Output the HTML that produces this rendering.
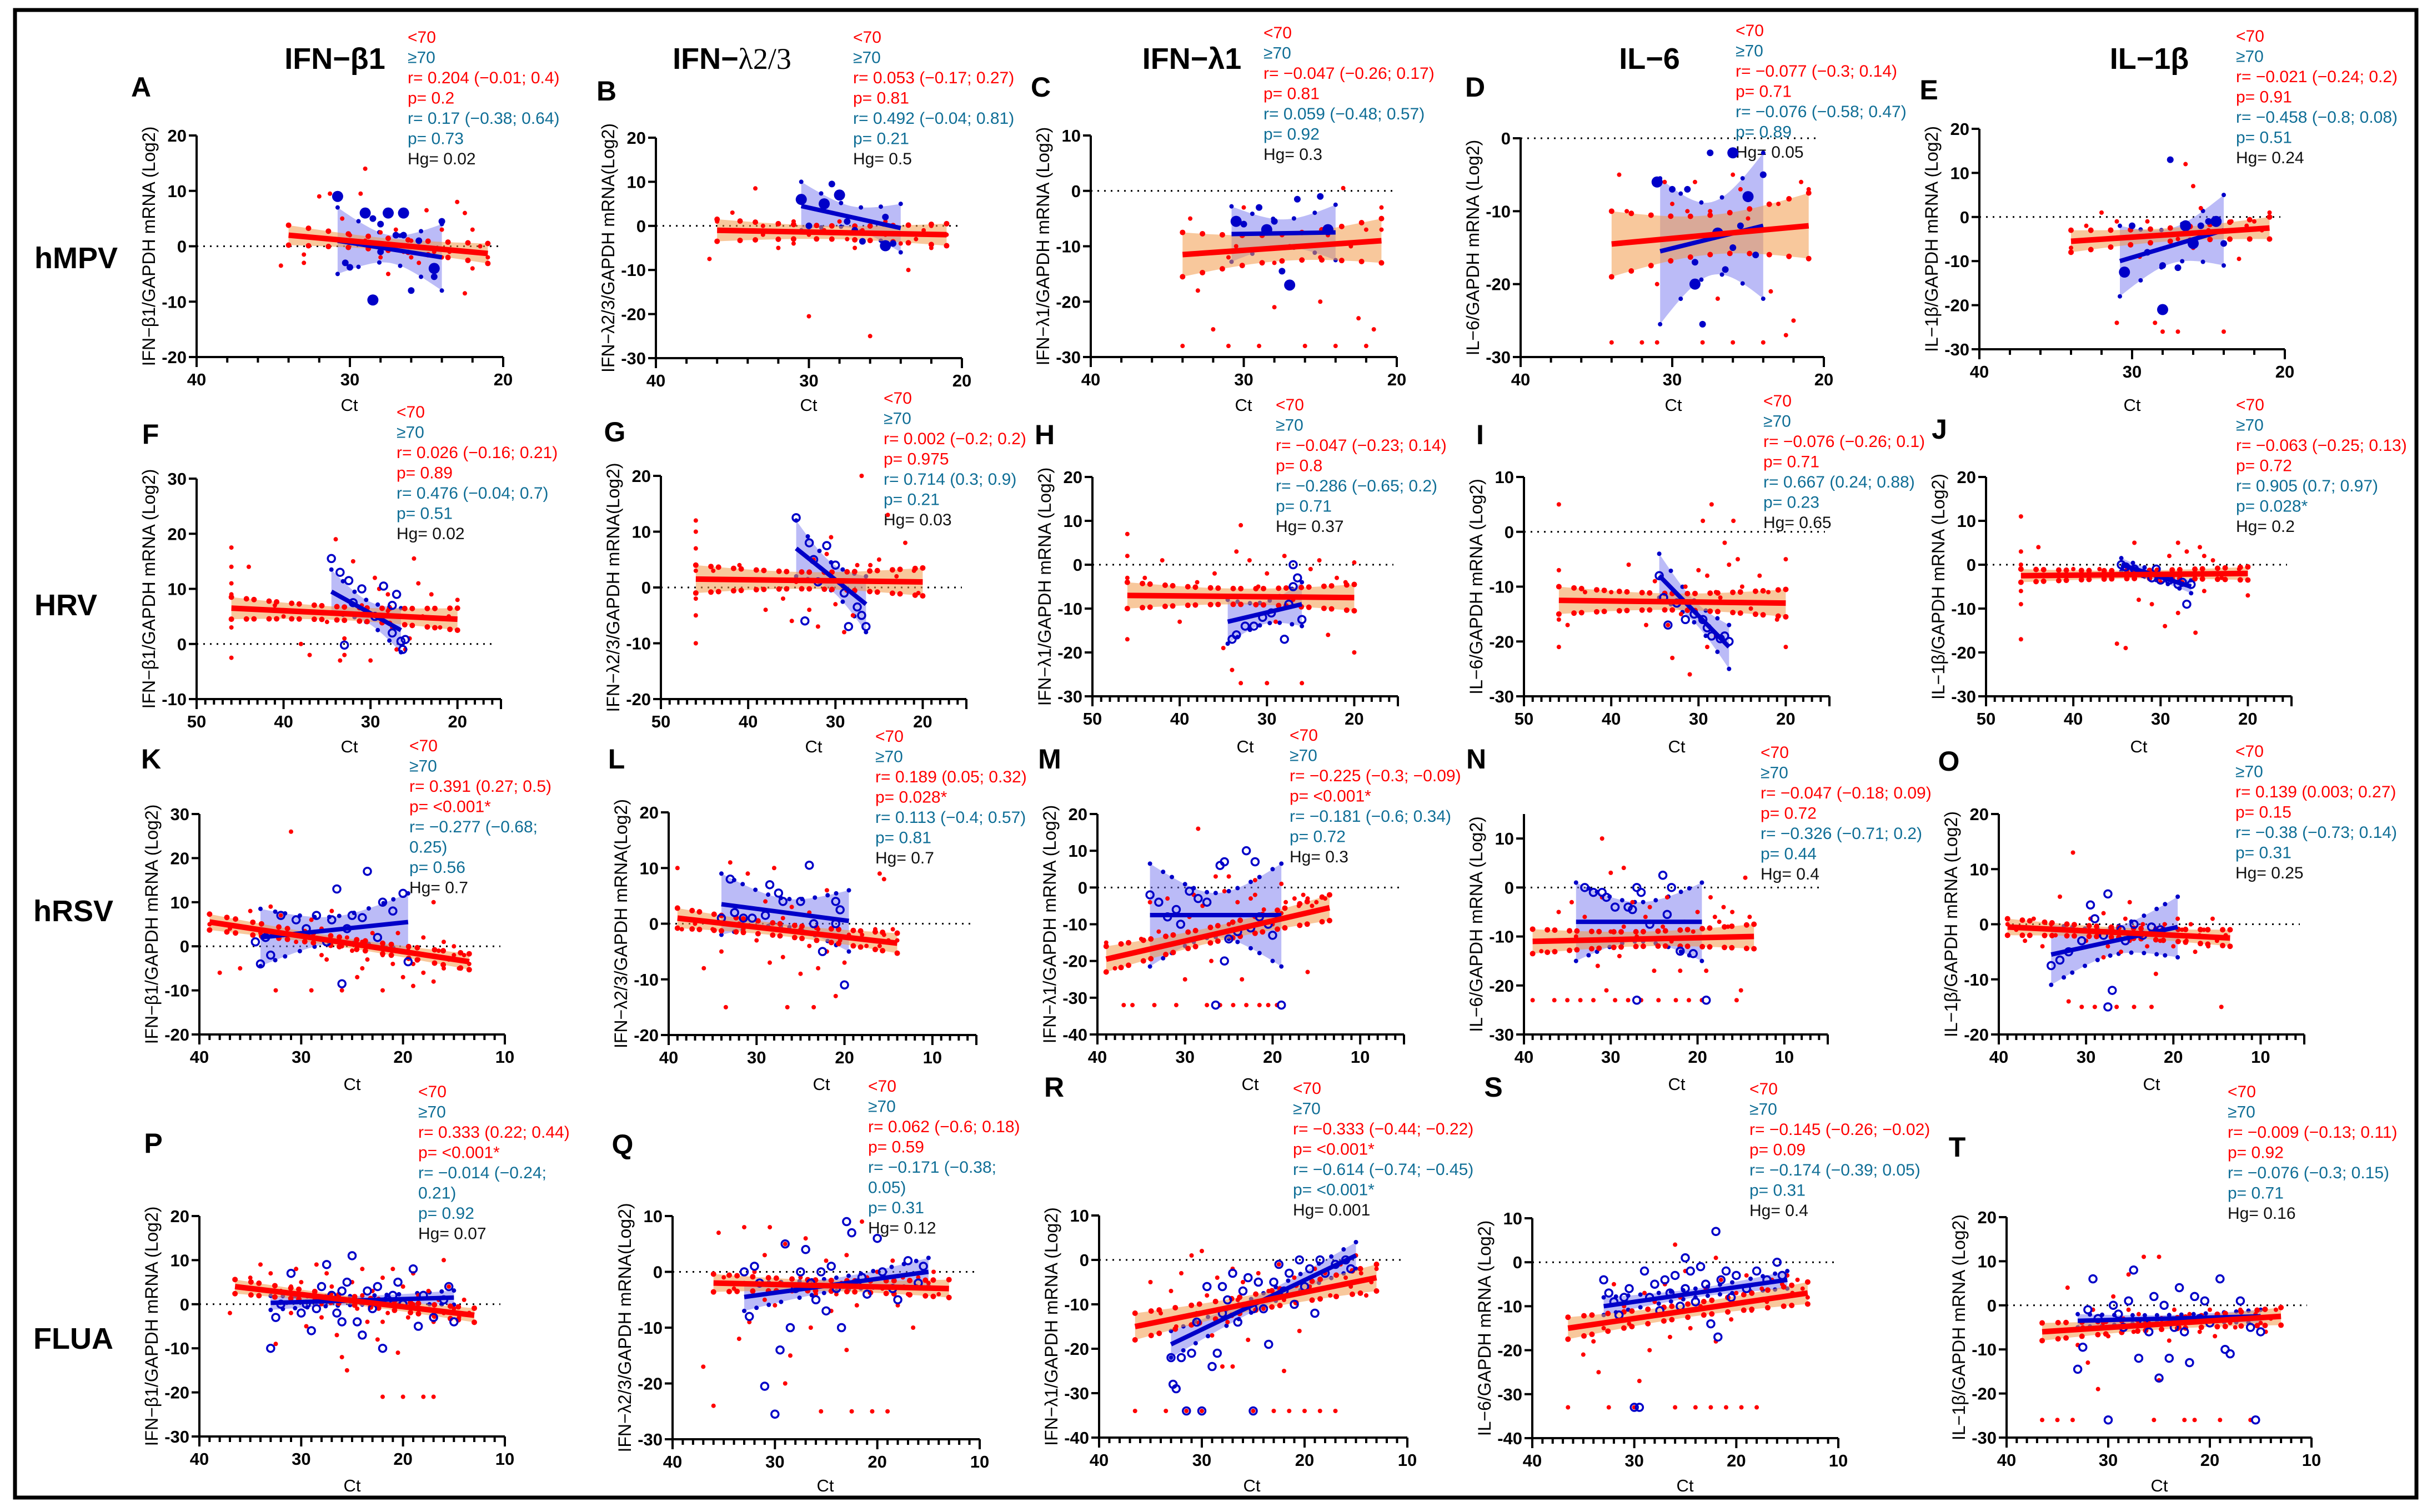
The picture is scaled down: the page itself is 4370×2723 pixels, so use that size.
<!DOCTYPE html>
<html><head><meta charset="utf-8">
<style>
html,body{margin:0;padding:0;background:#fff;}
svg{display:block;}
text{font-family:"Liberation Sans",Arial,sans-serif;}
</style></head>
<body>
<svg id="fig" xmlns="http://www.w3.org/2000/svg" width="4370" height="2723" viewBox="0 0 4370 2723">
<rect x="27" y="18" width="4324" height="2679" fill="#fff" stroke="#000" stroke-width="7"/>
<g font-weight="bold" font-size="54" text-anchor="middle">
<text x="603" y="124">IFN−β1</text>
<text x="1318" y="124">IFN−<tspan font-family="Liberation Serif, serif" font-weight="normal">λ2/3</tspan></text>
<text x="2146" y="124">IFN−λ1</text>
<text x="2970" y="124">IL−6</text>
<text x="3870" y="124">IL−1β</text>
</g>
<g font-weight="bold" font-size="54">
<text x="62" y="483">hMPV</text>
<text x="62" y="1108">HRV</text>
<text x="60" y="1659">hRSV</text>
<text x="60" y="2429">FLUA</text>
</g>
<g id="panels"></g>
</svg>
<script>
const panelIds = ['A','B','C','D','E','F','G','H','I','J','K','L','M','N','O','P','Q','R','S','T'];
const xDomains = [[40,20],[40,20],[40,20],[40,20],[40,20],[50,15],[50,15],[50,15],[50,15],[50,15],[40,10],[40,5],[40,5],[40,5],[40,5],[40,10],[40,10],[40,10],[40,10],[40,10]];
const yDomains = [[-20,20],[-30,20],[-30,10],[-30,0],[-30,20],[-10,30],[-20,20],[-30,20],[-30,10],[-30,20],[-20,30],[-20,20],[-40,20],[-30,15],[-20,20],[-30,20],[-30,10],[-40,10],[-40,10],[-30,20]];
const redFits = [[34,2,21,-1.3],[36,-1,21,-2],[34,-11.5,21,-9],[34,-14.5,21,-12],[34,-5.5,21,-2.5],[46,6.5,20,4.5],[46,1.5,20,1],[46,-7,20,-7.5],[46,-12.5,20,-13],[46,-2.5,20,-2],[39,5.5,13.5,-3.5],[39,1,14,-3.5],[39,-19.5,13.5,-5.5],[39,-11,13.5,-10],[39,-0.5,13.5,-2.5],[36.5,4,13,-2.5],[36,-2,13,-3],[36.5,-15,13,-4],[36.5,-15,13,-7],[36.5,-6,13,-2.5]];
const redBands = [1.8,2.5,4,4.5,2.5,2,2.5,3,2.5,1.5,1.8,1.8,3.5,2.5,1.5,1.6,1.6,3,2.5,2];
const blueFits = [[30.8,1,24,-2],[30.5,4.5,24,-0.5],[30.8,-7.8,24,-7.5],[30.8,-15.5,24,-12],[30.8,-10,24,-3],[34.5,9.5,26.5,2.5],[34.5,7,26.5,-3],[34.5,-13,26,-9],[34.5,-8,26.5,-21],[34.5,0,26.5,-5],[34,2,19.5,5.5],[34,3.5,19.5,0.5],[34,-7.5,19,-7.5],[34,-7,19.5,-7],[34,-5.5,19.5,-0.5],[33,0.3,15,1.5],[33,-4.5,15,0],[33,-19,15,1],[33,-10,15,-4],[33,-3.5,15,-2.5]];
const blueBands = [[6,2.5],[5.5,2.5],[5,2.5],[10,5],[8,4],[4,2],[5,2.5],[5,2.5],[4,2],[1.5,1],[6.5,3],[5.5,2.5],[14,6],[8,4],[5.5,2.5],[1.6,1],[2.5,1.2],[3,1.5],[2,1],[1.5,0.8]];
const redR = ['0.204 (−0.01; 0.4)','0.053 (−0.17; 0.27)','−0.047 (−0.26; 0.17)','−0.077 (−0.3; 0.14)','−0.021 (−0.24; 0.2)','0.026 (−0.16; 0.21)','0.002 (−0.2; 0.2)','−0.047 (−0.23; 0.14)','−0.076 (−0.26; 0.1)','−0.063 (−0.25; 0.13)','0.391 (0.27; 0.5)','0.189 (0.05; 0.32)','−0.225 (−0.3; −0.09)','−0.047 (−0.18; 0.09)','0.139 (0.003; 0.27)','0.333 (0.22; 0.44)','0.062 (−0.6; 0.18)','−0.333 (−0.44; −0.22)','−0.145 (−0.26; −0.02)','−0.009 (−0.13; 0.11)'];
const redP = ['0.2','0.81','0.81','0.71','0.91','0.89','0.975','0.8','0.71','0.72','<0.001*','0.028*','<0.001*','0.72','0.15','<0.001*','0.59','<0.001*','0.09','0.92'];
const blueR = ['0.17 (−0.38; 0.64)','0.492 (−0.04; 0.81)','0.059 (−0.48; 0.57)','−0.076 (−0.58; 0.47)','−0.458 (−0.8; 0.08)','0.476 (−0.04; 0.7)','0.714 (0.3; 0.9)','−0.286 (−0.65; 0.2)','0.667 (0.24; 0.88)','0.905 (0.7; 0.97)','−0.277 (−0.68;|0.25)','0.113 (−0.4; 0.57)','−0.181 (−0.6; 0.34)','−0.326 (−0.71; 0.2)','−0.38 (−0.73; 0.14)','−0.014 (−0.24;|0.21)','−0.171 (−0.38;|0.05)','−0.614 (−0.74; −0.45)','−0.174 (−0.39; 0.05)','−0.076 (−0.3; 0.15)'];
const blueP = ['0.73','0.21','0.92','0.89','0.51','0.51','0.21','0.71','0.23','0.028*','0.56','0.81','0.72','0.44','0.31','0.92','0.31','<0.001*','0.31','0.71'];
const hgValues = ['0.02','0.5','0.3','0.05','0.24','0.02','0.03','0.37','0.65','0.2','0.7','0.7','0.3','0.4','0.25','0.07','0.12','0.001','0.4','0.16'];
const redPoints = [
[[34.5,-3.5],[33,-1.5],[33,-3],[32,9],[31.3,9.5],[30.5,5],[29.3,9.5],[30,2],[29,1],[28,2.5],[27.5,-5],[27,3],[26.5,-1],[26,1],[25.5,-3],[25,6.5],[24.5,-1],[24,3],[23.5,-1],[23,8],[22.5,6],[22.5,-8.5],[22,3],[22,-4],[21.5,0],[21,-2],[21,-3],[24,-2],[26,-2],[28,-2],[29,14]],
[[36.5,-7.5],[36,1],[35,3],[33.5,8.5],[33,0],[32,-5],[31,-4],[30,-2],[30,-20.5],[29,-1],[28,1],[27.5,-3],[27,-5],[26.5,-1],[26,-25],[25,-2],[25,1],[24,-4],[23.5,-10],[23,-3],[22.5,-1],[22,0],[22,-5],[21,-2],[33,-2],[31,1]],
[[34,-28],[33.5,-5],[33,-18],[32,-25],[31,-28],[30,-3],[29,-28],[28,-21],[27.5,-8],[27,-10],[26,-28],[25,-20],[24.5,-8],[24,-28],[23,-10],[22.5,-23],[22,-28],[21.5,-25],[21,-3],[21,-7],[22,-7],[25,-12],[28,-13],[31,-12],[23.5,0.5],[30.5,-10]],
[[34,-28],[33.5,-5],[32,-28],[31,-20],[30.5,-6],[30,-9],[29,-10],[28.5,-6],[28,-28],[27.5,-10],[27,-22],[26,-28],[25.5,-7],[25,-11],[24.5,-16],[24,-28],[23.5,-21],[23,-9],[22.5,-27],[22,-25],[21.5,-6],[21,-7],[31,-28],[33,-10],[26,-5]],
[[33,-2],[32,1],[31,-1],[30,-2],[29,-1],[28.5,-24],[28,-26],[27,-26],[26.5,12],[26,7],[25.5,2],[25,-3],[24,-26],[23.5,-1],[23,-9.5],[22.5,-2],[22,-1],[21.5,-3],[21,1],[34,-7],[31,-24],[29.5,-9],[27,-5],[26,-7]],
[[46,17.5],[46,14],[46,11],[46,9],[46,3],[46,-2.5],[44,14],[41,7],[40,5],[38,0],[37,-2],[35,4],[34,19],[33.5,-3],[33,-2],[32,15],[31,7],[30,-3],[29.5,12],[29,10],[28,9],[27.5,3],[27,-1],[26,-1],[25.5,1],[25,15.5],[24.5,11],[23,9],[22,3],[21,5],[20,8],[33,1],[28,6],[24,5]],
[[46,12],[46,10],[46,7],[46,3],[46,-2],[46,-5],[46,-10],[44,3],[41,4],[38,-4],[36,-2],[34.5,1],[33,-4],[32.5,5],[32,-7],[31,6],[30.5,9],[30,-3],[29,-8],[28,-5],[27.5,4],[27,20],[26,4],[25,5],[24,13],[23,2],[22,8],[21,3],[20.5,-1],[35,-6],[29,0]],
[[46,7],[46,2],[46,-3],[46,-10],[46,-17],[44,-3],[42,1],[40,-13],[38,-4],[35,-19],[34,-24],[33,-27],[33.5,3],[32,1],[31,-5],[30,-27],[29,-13],[28,2],[27,-8],[26,-27],[25,-1],[24,1],[23,-16],[22,-3],[21,-4],[20,0.5],[20,-20],[30,-2],[33,9],[36,-2]],
[[46,5],[46,-7],[46,-10],[46,-16],[46,-21],[45,-17],[43,-11],[40,-11],[38,-6],[36,-17],[35,-9],[33.5,-17],[33,-23],[32,-15],[31.5,-10],[31,-26],[30,-7],[29.5,2],[29,-21],[28.5,5],[28,-19],[27.5,-12],[27,-2],[26.5,-6],[26,2],[25.5,-5],[24,-14],[23,-8],[22,-11],[21,-16],[20,-5],[20,-21],[29,-8],[28,-11],[25,-10]],
[[46,11],[46,3],[46,0],[46,-6],[46,-9],[46,-17],[44,4],[40,-1],[37,-1],[35,-18],[34,-19],[33,5],[32.5,-8],[32,-2],[31,-9],[30,-4],[29.5,-14],[29,2],[28,-11],[27.5,-4],[27,3],[26,-15.5],[25.5,4],[25,2],[24,1],[23,-3],[22,-2],[21,-1],[20,-7],[28,5],[30,-3],[25,-6]],
[[39,5],[38,-6],[37,4],[36,-5],[35,8],[34,3],[33,9],[32.5,-10],[32,7],[31,26],[30.5,1],[30,3],[29,-10],[28,4],[27.5,-3],[27,8],[26,-10],[25.5,2],[25,-1],[24.5,-7],[24,1],[23.5,-3],[23,3],[22,-10],[22,-2],[21,-4],[20.5,3],[20,-7],[19.5,-1],[19,-4],[18.5,-3],[18,-6],[17.5,-2],[17,-8],[16.5,-1],[16,-5],[15.5,-3],[15,0],[14.5,-5],[14,-2],[13.5,-4],[22,0.5],[18,2],[16,1],[24,-5],[26,0],[28,-2],[29,6],[17,10],[15,-2],[19,-9]],
[[39,10],[38.5,-1],[37,0],[36,-8],[35,-1],[34,-5],[33.5,-15],[33,11],[32,0],[31.5,-1],[31,9],[30,-3],[29,4],[28.5,-7],[28,10],[27,-6],[26.5,-15],[26,3],[25,-9],[24,2],[24,-4],[23.5,-15],[23,-8],[22,6],[22,-5],[21.5,-1],[21,-13],[20.5,-3],[20,-7],[19.5,-2],[19,-4],[18,-2],[17.5,-4],[17,-3],[16.5,-1],[16,-4],[15.5,-2],[15,-3],[14.5,-1],[14,-3],[25,-1],[27,1],[23,-1],[16,9],[15.5,8]],
[[39,-15],[38,-22],[37,-32],[36,-32],[35,-14],[34,-4],[33.5,-32],[33,-12],[32,-3],[31,-32],[30,-25],[29.5,-8],[29,-2],[28.5,16],[28,-5],[27.5,-32],[27,-20],[26.5,3],[26,-32],[25.5,-1],[25,-10],[24.5,-32],[24,-4],[23.5,-25],[23,-32],[22.5,-3],[22,-2],[21.5,-32],[21,-6],[20.5,-32],[20,-10],[19.5,-32],[19,-7],[18.5,-4],[18,-8],[17.5,-3],[17,-5],[16.5,-2],[16,-3],[15.5,-5],[15,-4],[14.5,-6],[14,-3],[16,-23],[22,2],[25,3],[19,1]],
[[39,-23],[38,-13],[36.5,-23],[36,-5],[35,-23],[34.5,-3],[34,-10],[33.5,-23],[33,-6],[32,-23],[31.5,-16],[31,-2],[30.5,-21],[30,-9],[29.5,-23],[29,-14],[28.5,-8],[28,-23],[27.5,-3],[27,-10],[26.5,-23],[26,-6],[25.5,-4],[25,-17],[24.5,-23],[24,-8],[23.5,-2],[23,-11],[22.5,-23],[22,-17],[21.5,-7],[21,-23],[20.5,-9],[20,-5],[19.5,-23],[19,-17],[18.5,-2],[18,-6],[17.5,-7],[17,-4],[16.5,-8],[16,-5],[15.5,-23],[15,-21],[14.5,2],[14,-6],[31,10],[30,3],[28.5,4]],
[[39,0],[38,-1],[37,-3],[36,1],[35,-4],[34,0],[33.5,-2],[33,5],[32,-14],[31.5,13],[31,-1],[30.5,-15],[30,-3],[29.5,1],[29,-15],[28.5,-2],[28,2],[27.5,-4],[27,-1],[26.5,-15],[26,-5],[25.5,1],[25,-3],[24.5,-15],[24,-2],[23.5,0],[23,-4],[22.5,-15],[22,-1],[21.5,-3],[21,0],[20.5,-2],[20,-4],[19.5,1],[19,-1],[18.5,-3],[18,0],[17.5,-5],[17,-2],[16.5,-1],[16,-4],[15.5,1],[15,-3],[14.5,-15],[14,-2],[22,-9],[25,4],[28,-6]],
[[37,-2],[35,6],[34,9],[33,7],[32.5,-9],[32,3],[31,-2],[30.5,8],[30,5],[29.5,-5],[29,2],[28.5,9],[28,-3],[27.5,7],[27,4],[26.5,-7],[26,1],[25.5,-15],[25,5],[24.5,-1],[24,8],[23.5,-4],[23,3],[22.5,-8],[22,-21],[22,6],[21.5,-2],[21,8],[20.5,-11],[20,-21],[20,4],[19.5,-3],[19,7],[18.5,2],[18,-21],[18,-1],[17.5,3],[17,-21],[17,-4],[16.5,1],[16,-2],[15.5,4],[15,-1],[14.5,-3],[14,1],[13.5,-2],[13,-4],[26,-12],[31,4],[28,0],[22,-4],[24,2],[19,0],[16,10]],
[[37,-17],[36,-24],[35.5,7],[35,-1],[34,-3],[33.5,-12],[33,8],[32.5,-9],[32,0],[31,3],[30.5,8],[30,-6],[29.5,-2],[29,5],[28.5,-15],[28,-3],[27.5,-1],[27,6],[26.5,-10],[26,-4],[25.5,-25],[25,2],[24.5,-7],[24,-4],[23.5,-2],[23,3],[22.5,-25],[22,-6],[21.5,9],[21,-1],[20.5,-25],[20,0],[19.5,-3],[19,-25],[18.5,2],[18,-6],[17.5,-1],[17,-4],[16.5,-10],[16,-1],[15.5,-3],[15,-2],[14.5,0],[14,-4],[13.5,-3],[29,-20],[23,-14],[31,-5]],
[[36.5,-34],[35,-5],[34,-12],[33.5,-34],[33,-7],[32.5,-15],[32,-3],[31.5,-34],[31,1],[30.5,-12],[30,-34],[29.5,-8],[29,-17],[28.5,-4],[28,-24],[27.5,-14],[27,-2],[26.5,-9],[26,-5],[25.5,-18],[25,-34],[24.5,-3],[24,-11],[23.5,-7],[23,-34],[22.5,-1],[22,-9],[21.5,-34],[21,-4],[20.5,-16],[20,-34],[19.5,-6],[19,-2],[18.5,-34],[18,-3],[17.5,-8],[17,-34],[16.5,-1],[16,-4],[15.5,-6],[15,1],[14.5,-3],[14,-8],[13.5,-5],[13,-2],[30,2],[27,-24],[22,-25]],
[[36.5,-33],[35,-21],[34,-18],[33.5,-25],[33,-15],[32.5,-33],[32,-5],[31,-10],[30.5,-14],[30,-33],[29.5,-27],[29,-7],[28.5,-20],[28,-9],[27.5,-12],[27,-5],[26.5,-17],[26,-33],[25.5,-8],[25,-2],[24.5,-15],[24,-33],[23.5,-10],[23,-6],[22.5,-33],[22,-18],[21.5,-4],[21,-33],[20.5,-13],[20,-7],[19.5,-33],[19,-3],[18.5,-11],[18,-33],[17.5,-6],[17,-9],[16.5,-4],[16,-8],[15.5,-5],[15,-3],[14.5,-7],[14,-4],[13.5,-6],[13,-8],[22,1],[26,4]],
[[36.5,-26],[35,-26],[34,4],[33.5,-26],[33,-9],[32.5,-5],[32,-13],[31.5,-1],[31,-19],[30.5,-4],[30,-7],[29.5,2],[29,-5],[28.5,-3],[28,-1],[27.5,-6],[27,-2],[26.5,11],[26,-4],[25.5,-26],[25,11],[24.5,-3],[24,-8],[23.5,-1],[23,-5],[22.5,-26],[22,-2],[21.5,-26],[21,-6],[20.5,-3],[20,-1],[19.5,-7],[19,-26],[18.5,-2],[18,-4],[17.5,-5],[17,-1],[16.5,-3],[16,-26],[15.5,-2],[15,-4],[14.5,-6],[14,-3],[13.5,-1],[25,-17],[28,7]]
];
const bluePoints = [
[[30.8,9],[30.3,-3],[30,-3.8],[28.5,-9.7],[28,4],[28,-1],[27.5,6],[27,2],[26.5,2],[26.5,6],[26,-8],[25.5,1],[24.5,-4],[24.5,-5.5],[24,4.5],[29,6],[28.5,5]],
[[30.5,6],[30,0],[28.5,9.5],[28,7],[27.5,1],[26.5,-3.5],[25,-4.5],[24.5,-4],[25,2],[29,5],[27,-1]],
[[30.5,-5.5],[30,-6],[29,-3],[28.5,-7],[28,-5.5],[27.5,-14.5],[27,-17],[26.5,-1.5],[25,-1],[24.5,-7]],
[[31,-6],[30,-7],[29,-7],[28.5,-20],[28,-25.5],[27.5,-2],[26,-2],[26.5,-18],[25.5,-12],[25,-8],[24.5,-16],[24,-5],[27,-13],[28.5,-17],[26,-15]],
[[30.5,-12.5],[29,-8],[28,-11],[28,-21],[27.5,13],[27,-11.5],[26,-6],[25.5,-2],[25,-1],[24.5,-1],[24,-6],[30,-2],[26.5,-2]],
[[34.5,15.5],[33.5,13],[33,-0.2],[32.5,11.5],[32,7.5],[31,10],[29.5,5],[28.5,10.5],[27.5,7],[27.5,2],[27,9],[26.5,0.5],[26,0.8],[26.3,-1]],
[[34.5,12.5],[33.5,-6],[33,8],[32.5,5],[32,1],[31,7.5],[30,4],[29,-1],[28.5,-7],[27.5,-3.5],[27,-5],[26.5,-7]],
[[34,-17],[33.5,-16],[32.5,-14],[31.5,-14],[30.5,-12],[29.5,-11],[28,-17],[27.5,-9],[27,0],[26.5,-3],[26,-12.5],[27,-5]],
[[34.5,-8],[34,-12],[33.5,-17],[32.5,-13],[31.5,-16],[30.5,-15],[29.5,-16],[29,-17.5],[28.5,-19],[27.5,-19.5],[27,-19],[26.5,-20]],
[[34.5,0],[34,-0.5],[33,-1],[32,-2],[31,-3],[30,-3.5],[29,-3.5],[28,-4.5],[27.5,-4],[27,-9],[26.5,-4.5],[30.5,-1]],
[[34.5,1],[34,-4],[33.5,2],[33,-2],[32,7],[30.5,6],[29.5,4],[28.5,7],[27.5,1],[27,6],[26.5,13],[26,-8.5],[25.5,4],[25,7],[24,6.5],[23.5,17],[22.5,2],[22,10],[21,8],[19.5,-3.5],[20,12]],
[[34,1],[33,8],[32.5,2],[31.5,1],[30.5,1],[29,1.5],[28.5,7],[27.5,5.5],[27,4],[25,4],[24,10.5],[23.5,0],[22.5,-5],[21,4],[20.5,2.5],[20,-11],[21,0]],
[[34,-2],[33,-4],[32,-8],[31,-6],[30.5,-10],[29.5,-1],[28.5,-3],[27.5,-4],[26.5,-32],[26,6],[25.5,7],[25.5,-20],[25,-14],[24,-12],[23,10],[22.5,-11],[22,7],[21.5,-8],[20.5,-10],[19,-32],[20,-13]],
[[33,0],[32,-1],[31,-1],[30.5,-2],[29.5,-4],[28,-4],[27.5,-4.5],[27,0],[26.5,-1],[25.5,-7.5],[24,2.5],[23.5,-5.5],[23,0],[22,-13],[20.5,-13.5],[27,-23],[19,-23]],
[[34,-7.5],[33,-6.5],[32,-5],[30.5,-3],[29.5,3.5],[29,1],[28,-2],[27.5,-15],[27,-12],[26,-1],[25.5,-3],[24.5,0],[23.5,-2],[22.5,-0.5],[21.5,-1],[27.5,5.5]],
[[33,-10],[32.5,-3],[32,0],[31,7],[30,-2],[29.5,0],[29,-6],[28.5,-1],[28,4],[27,2],[26.5,-2],[26,-4],[25.5,5],[25,11],[24.5,-4],[24,-7],[23.5,3],[23,-1],[22.5,4],[22,-10],[21.5,1],[21,2],[20.5,5],[20,0],[19,8],[18.5,-5],[18,2],[17,-3],[16,1],[15,-4],[15.5,4],[27.5,9],[26,3]],
[[33,0],[32.5,-8],[32,1],[31.5,-2],[31,-20.5],[30,-25.5],[29.5,-14],[29,5],[28.5,-10],[28,-3],[27.5,0],[27,4],[26.5,-2],[26,-5],[25.5,0],[25,-7],[24.5,1],[24,-3],[23.5,-10],[23,9],[22.5,7],[22,-2],[21.5,-1],[21,-4],[20,6],[19.5,0],[18.5,-3],[18,-5],[17,2],[16,-2],[15.5,1]],
[[33,-22],[32.8,-28],[32.5,-29],[32,-22],[31.5,-34],[31,-21],[30.5,-14],[30,-34],[29.5,-6],[29,-24],[28.5,-21],[28,-12],[27.5,-9],[27,-3],[26.5,-14],[26,-7],[25.5,-4],[25,-34],[24.5,-5],[24,-11],[23.5,-19],[23,-5],[22.5,-1],[22,-7],[21.5,-3],[21,-10],[20.5,0],[20,-6],[19.5,-2],[19,-12],[18.5,0],[18,-3],[17,-1],[16,0],[15.5,-2],[25,-11],[28,-6]],
[[33,-4],[32.5,-7],[32,-9],[31.5,-12],[31,-8],[30.5,-6],[30,-33],[29.5,-33],[29,-2],[28.5,-8],[28,-5],[27.5,-11],[27,-4],[26.5,-7],[26,-3],[25.5,-10],[25,-6],[24.5,-2],[24,-9],[23.5,-1],[23,-5],[22.5,-14],[22,7],[21.8,-17],[21.5,-4],[21,-2],[20.5,-8],[20,-3],[19,-6],[18,-2],[17,-4],[16,0],[15.5,-3],[25,1]],
[[33,-14.5],[32.5,-9.5],[32,-1],[31.5,6],[31,-3],[30,-26],[29.5,0],[29,-2],[28.5,-5],[28,1],[27.5,8],[27,-12],[26.5,-4],[26,-6],[25.5,2],[25,-16.5],[24.5,0],[24,-12],[23.5,-5],[23,4],[22.5,-6],[22,-13],[21.5,2],[21,-3],[20.5,1],[20,-4],[19,6],[18.5,-10],[18,-11],[17,1],[16,-5],[15.5,-26],[15,-6]]
];
const yTitles = ['IFN−β1/GAPDH mRNA (Log2)','IFN−λ2/3/GAPDH mRNA(Log2)','IFN−λ1/GAPDH mRNA (Log2)','IL−6/GAPDH mRNA (Log2)','IL−1β/GAPDH mRNA (Log2)'];

/* layout (pixel geometry, not data) */
const layout = {
A:{x:354,t:244,b:643,w:552,lx:254,ly:156,sx:734,sy:66},
B:{x:1181,t:248,b:645,w:551,lx:1092,ly:163,sx:1536,sy:66},
C:{x:1964,t:244,b:643,w:551,lx:1874,ly:156,sx:2275,sy:58},
D:{x:2738,t:249,b:643,w:546,lx:2656,ly:156,sx:3125,sy:54},
E:{x:3564,t:232,b:629,w:550,lx:3473,ly:161,sx:4026,sy:64},
F:{x:354,t:862,b:1259,w:548,lx:271,ly:781,sx:714,sy:741},
G:{x:1190,t:857,b:1259,w:550,lx:1107,ly:777,sx:1591,sy:716},
H:{x:1967,t:859,b:1254,w:550,lx:1881,ly:782,sx:2297,sy:728},
I:{x:2744,t:859,b:1254,w:550,lx:2665,ly:782,sx:3175,sy:721},
J:{x:3576,t:859,b:1254,w:550,lx:3492,ly:772,sx:4026,sy:728},
K:{x:359,t:1466,b:1863,w:550,lx:272,ly:1366,sx:737,sy:1342},
L:{x:1204,t:1463,b:1864,w:554,lx:1110,ly:1366,sx:1576,sy:1325},
M:{x:1976,t:1466,b:1863,w:552,lx:1890,ly:1366,sx:2322,sy:1323},
N:{x:2744,t:1466,b:1863,w:547,lx:2658,ly:1366,sx:3170,sy:1354},
O:{x:3599,t:1466,b:1863,w:550,lx:3509,ly:1370,sx:4025,sy:1352},
P:{x:359,t:2190,b:2587,w:550,lx:276,ly:2058,sx:753,sy:1965},
Q:{x:1211,t:2190,b:2592,w:553,lx:1121,ly:2060,sx:1563,sy:1955},
R:{x:1979,t:2189,b:2589,w:555,lx:1898,ly:1957,sx:2328,sy:1959},
S:{x:2759,t:2194,b:2590,w:551,lx:2689,ly:1957,sx:3150,sy:1960},
T:{x:3613,t:2192,b:2589,w:549,lx:3524,ly:2065,sx:4011,sy:1965}
};
const ctY = [729,1344,1952,2675];
const NS = 'http://www.w3.org/2000/svg';
const root = document.getElementById('panels');
function mk(tag, attrs, parent){
  const e = document.createElementNS(NS, tag);
  for (const k in attrs) e.setAttribute(k, attrs[k]);
  parent.appendChild(e);
  return e;
}
const RED='#ff0000', BLUE='#0000c8', TEAL='#0f6e96';

panelIds.forEach((id, i) => {
  const L = layout[id];
  const [xa, xb] = xDomains[i];
  const [ymin, ymax] = yDomains[i];
  const sx = v => L.x + (xa - v) / (xa - xb) * L.w;
  const sy = v => L.b - (v - ymin) / (ymax - ymin) * (L.b - L.t);
  const row = Math.floor(i / 5), col = i % 5;
  const g = mk('g', {}, root);
  
  

  // letter
  const lt = mk('text', {x: L.lx, y: L.ly + 18, 'font-size': 50, 'font-weight': 'bold', 'text-anchor': 'middle'}, g);
  lt.textContent = id;
  
  

  // stats
  const st = mk('g', {'font-size': 30}, g);
  
  
  const lines = [['<70', RED], ['≥70', TEAL], ['r= ' + redR[i], RED], ['p= ' + redP[i], RED]];
  blueR[i].split('|').forEach((s, k) => lines.push([(k === 0 ? 'r= ' : '') + s, TEAL]));
  lines.push(['p= ' + blueP[i], TEAL]);
  lines.push(['Hg= ' + hgValues[i], '#111']);
  lines.forEach((ln, k) => {
    const t = mk('text', {x: L.sx, y: L.sy + 11 + k * 36.5, fill: ln[1]}, st);
    t.textContent = ln[0];
    
    
  });

  // y-axis title
  const yt = mk('text', {x: 0, y: 0, 'font-size': 32, 'text-anchor': 'middle',
    transform: 'translate(' + (L.x - 75) + ',' + ((L.t + L.b) / 2) + ') rotate(-90)'}, g);
  yt.textContent = yTitles[col];
  
  

  // Ct label
  const ct = mk('text', {x: L.x + 275, y: ctY[row] + 11, 'font-size': 31, 'text-anchor': 'middle'}, g);
  ct.textContent = 'Ct';
  
  

  // zero line
  if (0 >= ymin && 0 <= ymax) {
    const zl = mk('line', {x1: L.x, x2: L.x + L.w - 8, y1: sy(0), y2: sy(0), stroke: '#000', 'stroke-width': 3, 'stroke-dasharray': '3 9'}, g);
    
    
  }

  function band(fit, e, m, fill, op, dotColor, dotR, name) {
    const [x1, y1, x2, y2] = fit;
    const xc = (x1 + x2) / 2, hs = (x1 - x2) / 2;
    const up = [], dn = [];
    const N = 30;
    for (let k = 0; k <= N; k++) {
      const xv = x1 + (x2 - x1) * k / N;
      const yv = y1 + (y2 - y1) * k / N;
      const tt = (xv - xc) / hs;
      const h = Math.sqrt(m * m + (e * e - m * m) * tt * tt);
      up.push([sx(xv), sy(yv + h)]);
      dn.push([sx(xv), sy(yv - h)]);
    }
    const pts = up.concat(dn.reverse()).map(p => p[0].toFixed(1) + ',' + p[1].toFixed(1)).join(' ');
    const pg = mk('polygon', {points: pts, fill: fill, 'fill-opacity': op}, g);
    
    
    const nd = Math.round(Math.abs(x1 - x2) / 1.3);
    for (let k = 0; k <= nd; k++) {
      const idx = Math.round(k / nd * N);
      [up[idx], dn[N - idx]].forEach(p => {
        if (!p) return;
        const c = mk('circle', {cx: p[0], cy: p[1], r: dotR, fill: dotColor}, g);
        
        
      });
    }
  }
  band(blueFits[i], blueBands[i][0], blueBands[i][1], '#7878f0', 0.5, BLUE, 4, 'blue-ci-band');
  band(redFits[i], redBands[i], redBands[i] * 0.6, '#f39a4a', 0.55, RED, 5, 'red-ci-band');

  // red scatter
  redPoints[i].forEach(p => {
    const c = mk('circle', {cx: sx(p[0]), cy: sy(p[1]), r: 4, fill: RED}, g);
    
    
  });
  // blue scatter
  bluePoints[i].forEach((p, k) => {
    let c;
    if (row === 0) c = mk('circle', {cx: sx(p[0]), cy: sy(p[1]), r: (k % 3 === 0 ? 10 : 6), fill: BLUE}, g);
    else c = mk('circle', {cx: sx(p[0]), cy: sy(p[1]), r: 6.5, fill: 'none', stroke: BLUE, 'stroke-width': 3.5}, g);
    
    
  });

  // fit lines
  const bf = blueFits[i];
  const bl = mk('line', {x1: sx(bf[0]), y1: sy(bf[1]), x2: sx(bf[2]), y2: sy(bf[3]), stroke: BLUE, 'stroke-width': 8}, g);
  
  
  const rf = redFits[i];
  const rl = mk('line', {x1: sx(rf[0]), y1: sy(rf[1]), x2: sx(rf[2]), y2: sy(rf[3]), stroke: RED, 'stroke-width': 10}, g);
  
  

  // axes
  const ax = mk('g', {stroke: '#000', 'stroke-width': 4}, g);
  
  
  mk('line', {x1: L.x, y1: L.t, x2: L.x, y2: L.b + 2}, ax);
  mk('line', {x1: L.x - 2, y1: L.b, x2: L.x + L.w, y2: L.b}, ax);
  const minorStep = (xa - xb) <= 20 ? 2 : 1;
  for (let v = xa; v >= xb; v -= minorStep) {
    const major = (v % 10 === 0) || v === xb;
    mk('line', {x1: sx(v), x2: sx(v), y1: L.b, y2: L.b + (major ? 18 : 10)}, ax);
  }
  const tl = mk('g', {'font-size': 31, 'font-weight': 'bold', 'text-anchor': 'middle'}, g);
  
  
  for (let v = xa; v >= xb; v -= 10) {
    const t = mk('text', {x: sx(v), y: L.b + 51}, tl);
    t.textContent = v;
  }
  const yl = mk('g', {'font-size': 31, 'font-weight': 'bold', 'text-anchor': 'end'}, g);
  
  
  for (let v = Math.ceil(ymin / 10) * 10; v <= ymax; v += 10) {
    mk('line', {x1: L.x - 14, x2: L.x, y1: sy(v), y2: sy(v)}, ax);
    const t = mk('text', {x: L.x - 18, y: sy(v) + 11}, yl);
    t.textContent = v;
  }
});
</script>
</body></html>
